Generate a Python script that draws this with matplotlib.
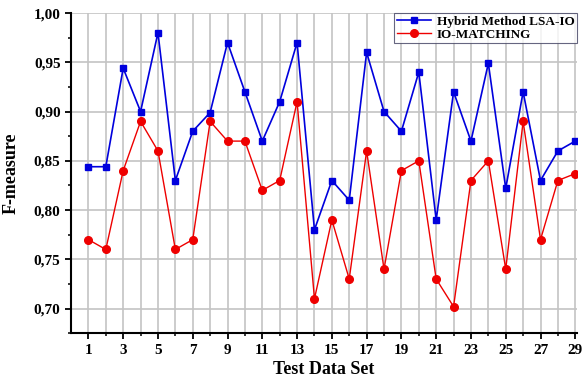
import numpy as np
import matplotlib.pyplot as plt
from matplotlib.ticker import MultipleLocator, FuncFormatter

# data
test_sets = np.arange(1, 30)
hybrid = [0.844, 0.844, 0.944, 0.900, 0.980, 0.830, 0.880, 0.899, 0.970, 0.920,
          0.870, 0.910, 0.970, 0.780, 0.830, 0.810, 0.960, 0.900, 0.880, 0.940,
          0.790, 0.920, 0.870, 0.949, 0.822, 0.920, 0.830, 0.860, 0.870]
io_matching = [0.770, 0.760, 0.840, 0.890, 0.860, 0.760, 0.770, 0.890, 0.870, 0.870,
               0.820, 0.830, 0.910, 0.710, 0.790, 0.730, 0.860, 0.740, 0.840, 0.850,
               0.730, 0.702, 0.830, 0.850, 0.740, 0.890, 0.770, 0.830, 0.837]

plt.rcParams['font.family'] = 'Liberation Serif'
plt.rcParams['font.weight'] = 'bold'

fig = plt.figure(figsize=(5.87, 3.83), dpi=100)
ax = fig.add_axes([0.121, 0.130, 0.862, 0.836])

ax.plot(test_sets, hybrid, color='#0000dd', lw=1.2, marker='s', ms=5,
        label='Hybrid Method LSA-IO', zorder=3)
ax.plot(test_sets, io_matching, color='#ee0000', lw=1.0, marker='o', ms=5.5,
        label='IO-MATCHING', zorder=3)

ax.set_xlim(0, 29.1)
ax.set_ylim(0.675, 1.0)
ax.xaxis.set_major_locator(MultipleLocator(2, offset=1))
ax.yaxis.set_major_locator(MultipleLocator(0.05))
ax.yaxis.set_minor_locator(MultipleLocator(0.025))
ax.yaxis.set_major_formatter(FuncFormatter(lambda v, p: f'{v:.2f}'.replace('.', ',')))

ax.set_xticks(np.arange(1, 30), minor=True)
ax.grid(True, which='minor', axis='x', color='#c4c4c4', lw=1.2)
ax.grid(True, which='major', axis='x', color='#c4c4c4', lw=1.2)
ax.grid(True, which='major', axis='y', color='#c4c4c4', lw=1.2)
ax.set_axisbelow(True)

for s in ['top', 'right']:
    ax.spines[s].set_visible(False)
ax.spines['left'].set_linewidth(1.5)
ax.spines['bottom'].set_linewidth(1.5)
ax.tick_params(which='major', length=4, width=1.3, labelsize=11)
ax.tick_params(which='minor', length=2.5, width=1.1)

ax.set_xlabel('Test Data Set', fontsize=13, fontweight='bold', labelpad=3)
ax.set_ylabel('F-measure', fontsize=13, fontweight='bold', labelpad=10)

leg = ax.legend(loc='upper right', bbox_to_anchor=(1.0, 1.0), fontsize=9.5,
                frameon=True, fancybox=False, borderpad=0.2, labelspacing=0.05,
                handlelength=2.6, handletextpad=0.4, borderaxespad=0.0)
leg.get_frame().set_edgecolor('#404060')
leg.get_frame().set_linewidth(0.8)

fig.savefig('out.png', dpi=100)
